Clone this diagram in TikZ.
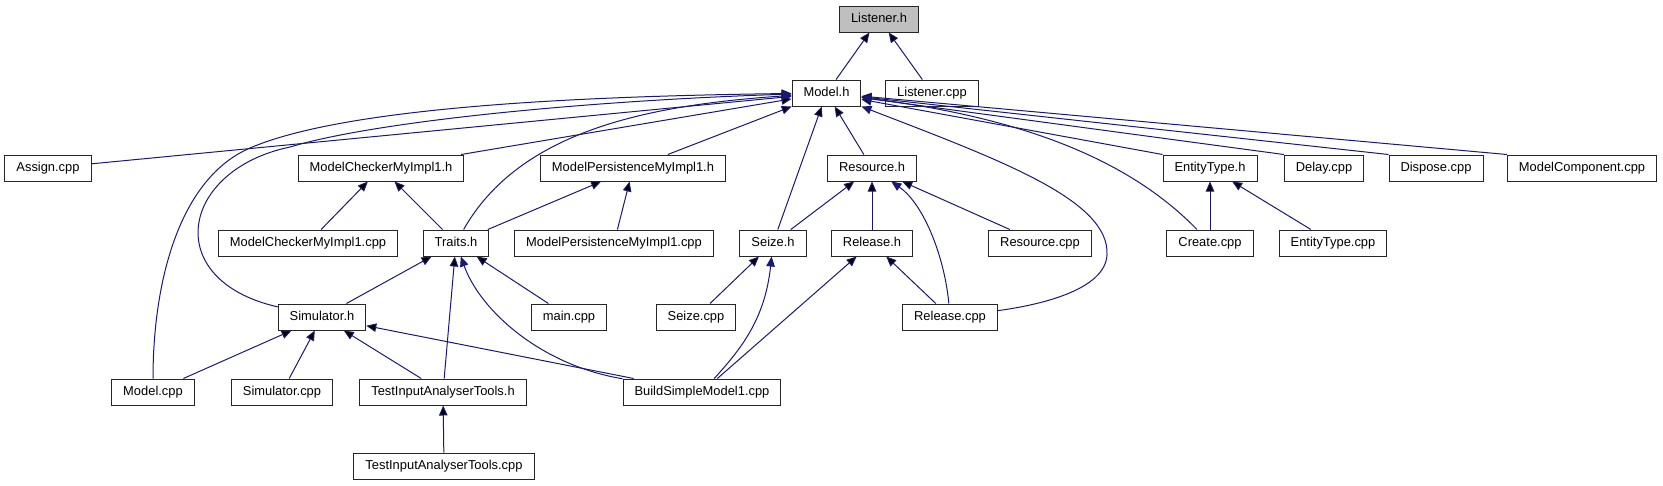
\documentclass[tikz,border=0pt]{standalone}
\usepackage{fontspec}
\setmainfont{Liberation Sans}
\usepackage{tikz}
\usetikzlibrary{arrows.meta}
\tikzset{>={Triangle[length=10pt,width=8.5pt]}}
\definecolor{depblue}{RGB}{25,25,112}
\definecolor{selgray}{RGB}{191,191,191}
\tikzset{
    file/.style={draw=black!85, line width=1pt, fill=white, inner xsep=11.5pt, inner ysep=0pt,
        minimum height=26pt, text height=9.4pt, text depth=2.8pt,
        font=\fontsize{12.9}{15}\selectfont},
    dep/.style={<-, draw=depblue, line width=1pt, fill=none}
}

\begin{document}
\begin{tikzpicture}[x=1pt, y=-1pt]
    \useasboundingbox (0,0) rectangle (1663,485);
    \node[file,fill=selgray] at (879,19) (listenerh) {Listener.h};
    \node[file] at (826.5,93) (modelh) {Model.h};
    \node[file] at (932,93) (listenercpp) {Listener.cpp};
    \node[file] at (48,168) (assigncpp) {Assign.cpp};
    \node[file] at (381,168) (checkerh) {ModelCheckerMyImpl1.h};
    \node[file] at (633,168) (persisth) {ModelPersistenceMyImpl1.h};
    \node[file] at (872,168) (resourceh) {Resource.h};
    \node[file] at (1210,168) (entitytypeh) {EntityType.h};
    \node[file] at (1324,168) (delaycpp) {Delay.cpp};
    \node[file] at (1436,168) (disposecpp) {Dispose.cpp};
    \node[file] at (1582,168) (componentcpp) {ModelComponent.cpp};
    \node[file] at (308,243) (checkercpp) {ModelCheckerMyImpl1.cpp};
    \node[file] at (456,243) (traitsh) {Traits.h};
    \node[file] at (614,243) (persistcpp) {ModelPersistenceMyImpl1.cpp};
    \node[file] at (773,243) (seizeh) {Seize.h};
    \node[file] at (872,243) (releaseh) {Release.h};
    \node[file] at (1040,243) (resourcecpp) {Resource.cpp};
    \node[file] at (1210,243) (createcpp) {Create.cpp};
    \node[file] at (1333,243) (entitytypecpp) {EntityType.cpp};
    \node[file] at (322,317) (simulatorh) {Simulator.h};
    \node[file] at (569,317) (maincpp) {main.cpp};
    \node[file] at (696,317) (seizecpp) {Seize.cpp};
    \node[file] at (950,317) (releasecpp) {Release.cpp};
    \node[file] at (153,392) (modelcpp) {Model.cpp};
    \node[file] at (282,392) (simulatorcpp) {Simulator.cpp};
    \node[file] at (443,392) (toolsh) {TestInputAnalyserTools.h};
    \node[file] at (702,392) (buildcpp) {BuildSimpleModel1.cpp};
    \node[file] at (444,466) (toolscpp) {TestInputAnalyserTools.cpp};
    \path[dep]
    (listenerh) edge (modelh)
    (listenerh) edge (listenercpp)
    (modelh) edge (assigncpp)
    (modelh) edge (checkerh)
    (modelh) edge (persisth)
    (modelh) edge (seizeh)
    (modelh) edge (resourceh)
    (modelh) edge (entitytypeh.north west)
    (modelh) edge (delaycpp.north west)
    (modelh) edge (disposecpp.north west)
    (modelh) edge (componentcpp.north west)
    (checkerh) edge (checkercpp)
    (checkerh) edge (traitsh)
    (persisth) edge (traitsh)
    (persisth) edge (persistcpp)
    (resourceh) edge (seizeh)
    (resourceh) edge (releaseh)
    (resourceh) edge (resourcecpp)
    (entitytypeh) edge (createcpp)
    (entitytypeh) edge (entitytypecpp)
    (traitsh) edge (simulatorh)
    (traitsh) edge (toolsh)
    (traitsh) edge (maincpp)
    (seizeh) edge (seizecpp)
    (releaseh) edge (buildcpp)
    (releaseh) edge (releasecpp)
    (simulatorh) edge (modelcpp)
    (simulatorh) edge (simulatorcpp)
    (simulatorh) edge (toolsh)
    (simulatorh) edge (buildcpp)
    (toolsh) edge (toolscpp)
    ;
    \draw[dep] (modelh) .. controls (600,96) and (350,105) .. (250,148)
        .. controls (180,178) and (153,280) .. (modelcpp);
    \draw[dep] (modelh) .. controls (600,100) and (380,120) .. (290,147)
        .. controls (180,170) and (160,280) .. (simulatorh);
    \draw[dep] (modelh) .. controls (650,105) and (520,130) .. (traitsh);
    \draw[dep] (modelh) .. controls (1000,160) and (1110,200) .. (1107,255)
        .. controls (1105,290) and (1040,305) .. (releasecpp);
    \draw[dep] (modelh) .. controls (1000,115) and (1120,150) .. (createcpp);
    \draw[dep] (resourceh) .. controls (925,205) and (945,260) .. (releasecpp);
    \draw[dep] (traitsh) .. controls (480,310) and (540,365) .. (buildcpp);
    \draw[dep] (seizeh) .. controls (765,320) and (740,350) .. (buildcpp);
\end{tikzpicture}
\end{document}
